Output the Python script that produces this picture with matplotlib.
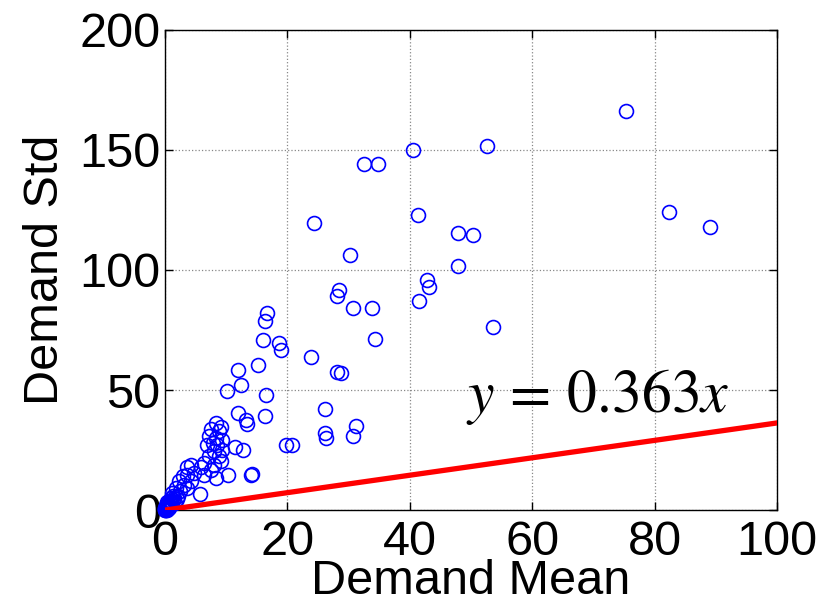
import matplotlib
matplotlib.use("Agg")
import matplotlib.pyplot as plt
import numpy as np

demand_mean = [75.3, 52.7, 40.5, 32.5, 34.9, 82.3, 41.3, 24.3, 89.1, 47.9, 50.4, 30.2, 47.9,
               42.9, 43.2, 28.5, 28.2, 41.5, 30.8, 33.8, 16.7, 16.4, 53.6, 16.0, 34.3, 18.6,
               19.0, 23.9, 15.2, 11.9, 28.1, 28.8, 12.5, 10.1, 16.6, 26.2, 12.0, 16.4, 13.2,
               13.5, 31.2, 26.1, 26.4, 30.8, 19.8, 20.8, 11.5, 12.7, 10.3, 14.0, 14.2, 5.7,
               8.3, 9.1, 7.5, 8.8, 7.2, 8.3, 9.4, 7.8, 8.6, 6.9, 9.4, 8.0, 8.8, 7.2, 9.1,
               8.0, 6.4, 4.2, 3.7, 5.9, 7.5, 4.8, 3.7, 2.9, 6.4, 8.3, 4.2, 2.3, 3.1, 1.8,
               3.7, 1.2, 2.1, 0.97, 0.43, 0.16, 0.05, 0.3, 0.5, 0.8, 1.0, 0.2, 1.5, 2.5,
               1.3, 0.1, 0.6, 2.0, 0.02, 0.08, 0.15, 0.25, 0.35, 0.45, 0.6, 0.7, 0.9, 1.1,
               0.05, 0.12, 0.3, 0.4, 0.55, 0.75, 1.4, 1.7, 0.2, 0.65]
demand_std = [166.2, 151.7, 149.8, 144.1, 144.1, 124.2, 122.8, 119.4, 117.8, 115.5, 114.5,
              106.3, 101.8, 95.8, 93.1, 91.6, 89.0, 87.2, 84.3, 84.0, 81.9, 78.8, 76.4, 70.9,
              71.2, 69.6, 66.7, 63.7, 60.5, 58.5, 57.4, 56.9, 52.1, 49.7, 47.9, 42.0, 40.6,
              39.3, 37.4, 35.7, 35.1, 32.0, 30.0, 30.9, 27.0, 27.3, 26.2, 25.0, 14.7, 14.7,
              14.9, 6.6, 36.4, 34.6, 33.6, 32.9, 30.8, 30.1, 29.4, 28.0, 27.3, 27.3, 25.2,
              24.5, 22.4, 22.4, 20.3, 18.9, 19.6, 18.9, 17.8, 17.8, 16.8, 15.4, 14.7, 14.0,
              14.7, 13.3, 12.0, 12.0, 10.6, 9.2, 9.2, 7.1, 6.0, 5.0, 3.5, 2.1, 0.7, 1.5, 2.5,
              3.0, 4.0, 0.5, 5.0, 8.0, 6.0, 0.2, 1.2, 4.5, 0.1, 0.4, 0.9, 0.3, 1.8, 1.0,
              2.8, 1.6, 3.3, 2.4, 1.0, 0.6, 0.2, 1.3, 2.0, 3.8, 4.2, 3.0, 0.0, 0.8]

slope = 0.363
fit_x = [0, 100]

plt.rcParams['font.family'] = ['Liberation Sans', 'DejaVu Sans']
plt.rcParams['mathtext.fontset'] = 'stix'

fig = plt.figure(figsize=(8.24, 6.08), dpi=100)
ax = fig.add_axes([0.200, 0.161, 0.743, 0.790])

ax.plot(demand_mean, demand_std, linestyle='none', marker='o', markersize=10,
        markerfacecolor='none', markeredgecolor='#0000ff', markeredgewidth=1.2,
        zorder=3, clip_on=False)
ax.plot(fit_x, [slope * v for v in fit_x], color='#ff0000', linewidth=3.8, zorder=4)

ax.set_xlim(0, 100)
ax.set_ylim(0, 200)
ax.set_xticks([0, 20, 40, 60, 80, 100])
ax.set_yticks([0, 50, 100, 150, 200])
ax.tick_params(direction='in', labelsize=35, length=6, width=1, top=True, right=True)
ax.tick_params(axis='x', pad=7)
ax.tick_params(axis='y', pad=3)
ax.grid(True, linestyle=':', color='#888888', linewidth=0.9)
for s in ax.spines.values():
    s.set_linewidth(1.0)

ax.set_xlabel('Demand Mean', fontsize=35, labelpad=-4)
ax.set_ylabel('Demand Std', fontsize=35, labelpad=8)

ax.text(70.8, 40.8, r'$y\,=\,0.363x$', fontsize=43, ha='center', va='baseline', zorder=5)

fig.savefig('out.png', dpi=100)
